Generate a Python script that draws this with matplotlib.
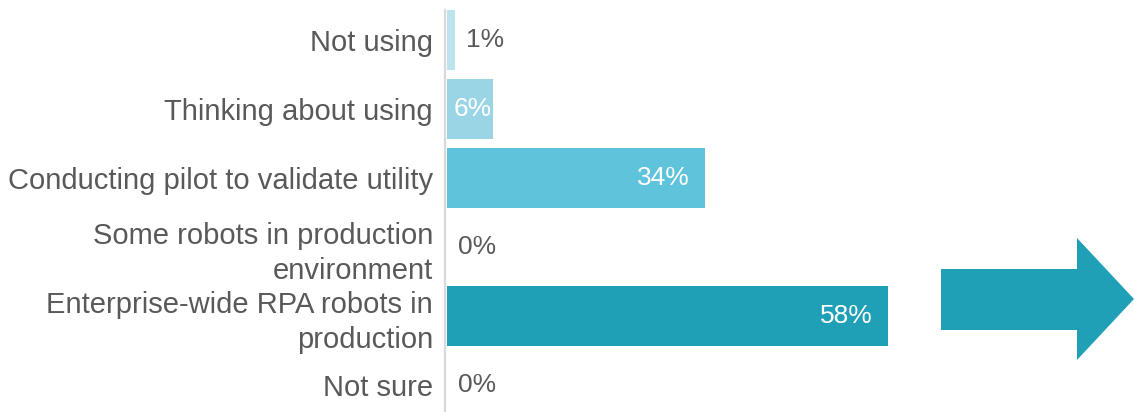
import matplotlib.pyplot as plt
from matplotlib.patches import Polygon

plt.rcParams['font.family'] = ['Liberation Sans', 'DejaVu Sans']

categories = ['Not using', 'Thinking about using', 'Conducting pilot to validate utility',
              'Some robots in production\nenvironment', 'Enterprise-wide RPA robots in\nproduction',
              'Not sure']
values = [1, 6, 34, 0, 58, 0]
labels = ['1%', '6%', '34%', '0%', '58%', '0%']
colors = ['#bde3ee', '#9ad5e6', '#5fc3dc', '#5fc3dc', '#20a0b7', '#20a0b7']

W, H = 1134, 412
fig = plt.figure(figsize=(W / 100, H / 100), dpi=100)
ax = fig.add_axes([447 / W, 0, 687 / W, 1])

y = list(range(len(categories)))
ax.barh(y, values, height=0.87, color=colors)
ax.set_xlim(0, 90.4)
ax.set_ylim(5.39, -0.58)

for spine in ax.spines.values():
    spine.set_visible(False)
ax.set_xticks([])
ax.set_yticks(y)
ax.set_yticklabels(categories, fontsize=21, color='#595959', linespacing=1.3)
ax.tick_params(axis='y', length=0, pad=10)
ax.axvline(-0.2, ymin=0.0, ymax=0.975, color='#d9d9d9', lw=1.6, clip_on=False, zorder=0)

for yi, v, lab in zip(y, values, labels):
    if v >= 20:
        ax.text(v - 2.0, yi, lab, ha='right', va='center', fontsize=19, color='white')
    elif v >= 5:
        ax.text(v / 2 + 0.4, yi, lab, ha='center', va='center', fontsize=19, color='white')
    else:
        ax.text(v + 1.5, yi, lab, ha='left', va='center', fontsize=19, color='#595959')

# block arrow on the right
pts = [(941, 269), (1077, 269), (1077, 238), (1134, 299), (1077, 360), (1077, 330), (941, 330)]
pts = [(px / W, 1 - py / H) for px, py in pts]
fig.add_artist(Polygon(pts, closed=True, facecolor='#20a0b7', edgecolor='none',
                       transform=fig.transFigure))

fig.savefig('out.png', dpi=100)
